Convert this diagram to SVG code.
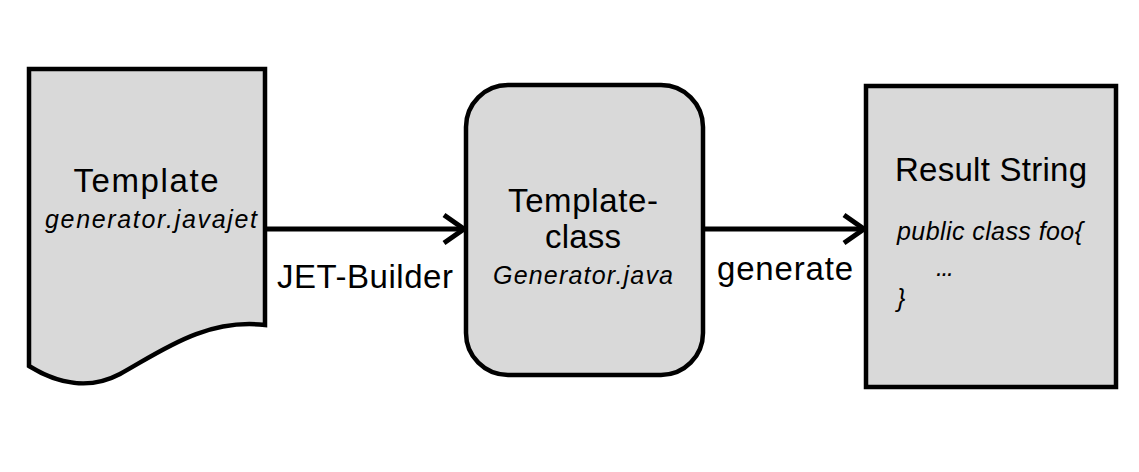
<svg xmlns="http://www.w3.org/2000/svg" width="1139" height="472" viewBox="0 0 1139 472">
<style>
.shape{fill:#d9d9d9;stroke:#000;stroke-width:4.5;stroke-linejoin:miter}
.t{font-family:"Liberation Sans",Arial,sans-serif;fill:#000}
.big{font-size:33px}
.it{font-size:25px;font-style:italic}
.conn{stroke:#000;stroke-width:5;fill:none}
</style>
<defs>
<marker id="arr" markerUnits="userSpaceOnUse" markerWidth="30" markerHeight="34" refX="22" refY="17" orient="auto" viewBox="0 0 30 34">
<polyline points="2,3 22,17 2,31" fill="none" stroke="#000" stroke-width="5"/>
</marker>
</defs>
<rect width="1139" height="472" fill="#fff"/>
<g id="connectors">
<path class="conn" d="M265,229 H464" marker-end="url(#arr)"/>
<path class="conn" d="M703,229 H864" marker-end="url(#arr)"/>
<text class="t big" x="365" y="288" text-anchor="middle" textLength="176">JET-Builder</text>
<text class="t big" x="785" y="280" text-anchor="middle" textLength="136">generate</text>
</g>
<g id="template">
<path class="shape" d="M29,69 H265 V325 C205,318 160,352 120,374 C90,390 58,384 29,366 Z"/>
<text class="t big" x="146" y="192" text-anchor="middle" textLength="145">Template</text>
<text class="t it" x="151" y="228" text-anchor="middle" textLength="212">generator.javajet</text>
</g>
<g id="template-class">
<rect class="shape" x="466" y="85" width="237" height="290" rx="42" ry="42"/>
<text class="t big" x="583" y="212" text-anchor="middle" textLength="150">Template-</text>
<text class="t big" x="583" y="248" text-anchor="middle" textLength="76">class</text>
<text class="t it" x="583" y="284" text-anchor="middle" textLength="180">Generator.java</text>
</g>
<g id="result">
<rect class="shape" x="866" y="86" width="250" height="301"/>
<text class="t big" x="991" y="181" text-anchor="middle" textLength="192">Result String</text>
<text class="t it" x="897" y="240" textLength="186">public class foo{</text>
<text class="t it" x="936" y="276" textLength="18">...</text>
<text class="t it" x="897" y="307">}</text>
</g>
</svg>
